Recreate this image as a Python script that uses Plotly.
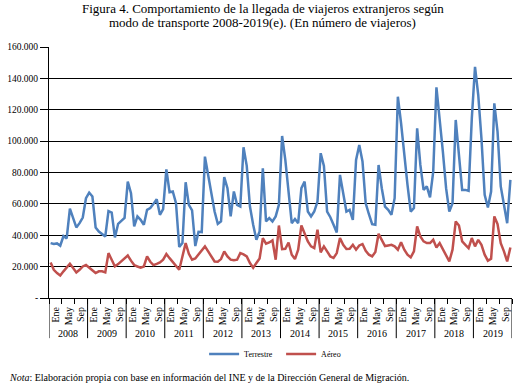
import plotly.graph_objects as go

years = [str(y) for y in range(2008, 2020)]
month_labels = ["Ene", "May", "Sep"]

terrestre = [
    35.0, 34.4, 34.8, 33.3, 39.5, 38.0, 57.0, 51.0, 45.0, 47.7, 51.3, 63.6,
    67.2, 64.7, 45.0, 42.4, 40.5, 39.2, 55.4, 54.5, 38.6, 47.3, 49.2, 51.1,
    74.2, 66.8, 45.6, 52.0, 49.8, 46.7, 56.2, 57.3, 60.0, 63.0, 53.0, 56.6,
    82.0, 67.4, 67.9, 60.4, 32.5, 35.0, 73.8, 59.4, 55.8, 33.1, 42.2, 42.0,
    90.1, 79.5, 66.8, 55.1, 47.3, 48.8, 77.0, 70.0, 52.0, 67.9, 59.4, 58.3,
    96.1, 84.2, 58.3, 46.7, 37.1, 42.4, 82.7, 48.8, 50.9, 48.8, 52.0, 59.4,
    103.3, 88.0, 65.8, 47.7, 50.3, 47.7, 70.0, 74.2, 55.1, 52.0, 55.1, 61.5,
    92.3, 84.2, 55.1, 51.5, 46.7, 41.8, 78.5, 67.2, 55.1, 56.2, 49.8, 88.0,
    97.6, 87.0, 60.4, 53.4, 47.1, 46.7, 84.8, 70.0, 58.3, 56.2, 53.0, 63.6,
    128.3, 111.4, 90.1, 72.1, 55.1, 57.3, 108.2, 84.8, 68.9, 71.1, 64.1, 80.6,
    134.3, 114.5, 93.3, 70.0, 55.1, 60.4, 113.5, 91.2, 68.9, 68.9, 68.3, 114.5,
    147.4, 129.4, 101.8, 65.8, 57.7, 67.9, 124.1, 106.0, 71.1, 59.4, 47.7, 75.3,
]
aereo = [
    22.7, 18.0, 15.9, 14.4, 17.0, 19.7, 21.8, 19.1, 16.3, 18.0, 20.1, 21.0,
    19.3, 17.6, 15.9, 17.0, 17.0, 16.3, 28.6, 24.4, 20.1, 21.6, 23.3, 25.2,
    27.1, 23.8, 21.0, 20.1, 19.3, 20.1, 26.5, 23.1, 21.0, 21.8, 22.7, 24.4,
    28.0, 25.4, 22.7, 20.1, 18.0, 26.5, 35.0, 28.2, 24.4, 25.2, 27.8, 30.8,
    32.9, 29.7, 26.5, 23.3, 23.1, 24.8, 29.7, 26.5, 24.4, 24.0, 24.4, 28.6,
    27.8, 26.5, 22.3, 19.3, 22.3, 25.2, 38.2, 34.6, 35.4, 36.7, 24.4, 46.2,
    31.2, 31.4, 35.4, 27.6, 24.8, 30.8, 46.2, 41.4, 36.1, 32.9, 31.8, 43.5,
    29.1, 32.9, 29.7, 26.5, 25.5, 28.6, 38.2, 33.9, 31.2, 31.4, 33.9, 30.8,
    33.5, 34.4, 30.1, 27.6, 26.5, 29.3, 40.9, 37.1, 33.1, 33.5, 33.9, 32.9,
    30.8, 35.6, 30.8, 27.6, 25.9, 29.7, 45.6, 39.2, 36.1, 35.0, 35.0, 37.1,
    32.2, 35.0, 30.8, 26.5, 23.3, 30.8, 48.8, 46.2, 36.1, 33.9, 31.8, 38.2,
    32.9, 37.1, 33.9, 27.6, 23.8, 25.0, 52.0, 47.1, 35.0, 29.7, 23.3, 32.2,
]
terrestre = [v * 1000 for v in terrestre]
aereo = [v * 1000 for v in aereo]

y_ticks = [0, 20000, 40000, 60000, 80000, 100000, 120000, 140000, 160000]
y_labels = ["-", "20.000", "40.000", "60.000", "80.000", "100.000", "120.000", "140.000", "160.000"]

months = list(range(len(terrestre)))
SERIF = "Liberation Serif, Times New Roman, serif"

fig = go.Figure()
fig.add_trace(go.Scatter(x=months, y=terrestre, mode="lines", name="Terrestre",
                         line=dict(color="#4F81BD", width=2.5)))
fig.add_trace(go.Scatter(x=months, y=aereo, mode="lines", name="Aéreo",
                         line=dict(color="#C0504D", width=2.5)))

tickvals = []
ticktext = []
for k in range(len(years)):
    for j, lab in enumerate(month_labels):
        tickvals.append(12 * k + 4 * j + 1.5)
        ticktext.append(lab)

fig.update_xaxes(
    range=[-0.5, 143.5], tickmode="array", tickvals=tickvals, ticktext=ticktext,
    tickangle=-90, ticks="", ticklabelstandoff=4, showgrid=False, zeroline=False,
    showline=True, linecolor="black", linewidth=1,
    tickfont=dict(family=SERIF, size=10, color="black"),
    minor=dict(ticks="outside", tick0=-0.5, dtick=4, ticklen=5, tickcolor="black",
               tickwidth=1, showgrid=False),
)
fig.update_yaxes(
    range=[0, 160000], tickmode="array", tickvals=y_ticks, ticktext=y_labels,
    showgrid=True, gridcolor="black", gridwidth=1, zeroline=False,
    showline=True, linecolor="black", linewidth=1,
    ticks="outside", ticklen=8, tickcolor="black",
    tickfont=dict(family=SERIF, size=9.5, color="black"),
)

# year separators and year labels
for k in range(len(years) + 1):
    fig.add_shape(type="line", xref="x", yref="paper", x0=12 * k - 0.5, x1=12 * k - 0.5,
                  y0=0, y1=-0.16, line=dict(color="black", width=1))
for k, yr in enumerate(years):
    fig.add_annotation(x=12 * k + 5.5, y=-0.142, xref="x", yref="paper", text=yr,
                       showarrow=False, yanchor="middle",
                       font=dict(family=SERIF, size=10, color="black"))

fig.add_annotation(
    text="Figura 4. Comportamiento de la llegada de viajeros extranjeros según",
    xref="paper", yref="paper", x=0.462, y=1.155, showarrow=False, yanchor="middle",
    font=dict(family=SERIF, size=13, color="black"))
fig.add_annotation(
    text="modo de transporte 2008-2019(e). (En número de viajeros)",
    xref="paper", yref="paper", x=0.462, y=1.099, showarrow=False, yanchor="middle",
    font=dict(family=SERIF, size=13, color="black"))
fig.add_annotation(
    text="<i>Nota</i>: Elaboración propia con base en información del INE y de la Dirección General de Migración.",
    xref="paper", yref="paper", x=-0.09, y=-0.318, showarrow=False, xanchor="left",
    yanchor="middle", font=dict(family=SERIF, size=10, color="black"))

fig.update_layout(
    width=519, height=387,
    margin=dict(l=46, r=7, t=47, b=89),
    paper_bgcolor="white", plot_bgcolor="white",
    showlegend=True,
    legend=dict(orientation="h", x=0.335, y=-0.223, xanchor="left", yanchor="middle",
                font=dict(family=SERIF, size=8, color="black"),
                entrywidth=32, entrywidthmode="pixels", itemwidth=30,
                bgcolor="rgba(0,0,0,0)"),
)

fig.write_html("out.html", config={"displayModeBar": False},
               post_script="document.body.style.margin='0';")
